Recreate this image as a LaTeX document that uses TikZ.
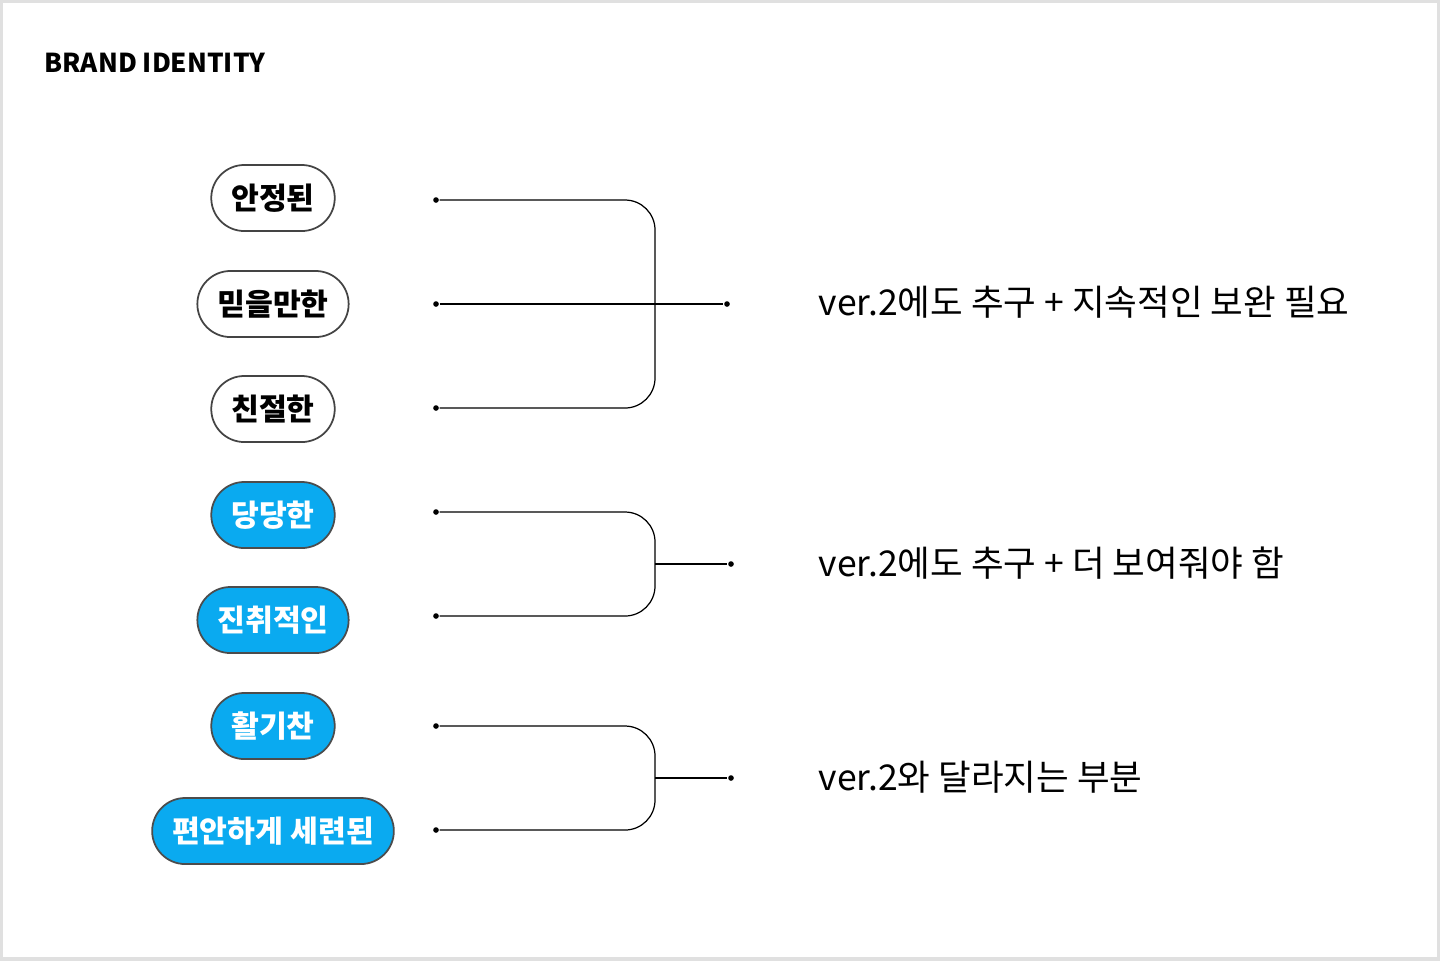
\documentclass[tikz,border=0pt]{standalone}
\usepackage{fontspec}
\setmainfont{Noto Sans CJK KR}
\usepackage{tikz}
\definecolor{pillblue}{HTML}{0AAAF0}
\definecolor{pillgray}{HTML}{444444}
\begin{document}
\begin{tikzpicture}[x=0.01cm, y=-0.01cm,
  pill/.style={draw=pillgray, line width=0.5pt, rounded corners=0.33cm, minimum height=0.66cm, inner xsep=0.2cm, font=\fontsize{8.6pt}{10pt}\selectfont\bfseries},
  bluepill/.style={pill, fill=pillblue, draw=black!70, text=white},
  remark/.style={anchor=west, inner sep=0pt, font=\fontsize{10.1pt}{12pt}\selectfont},
  link/.style={line width=0.35pt, rounded corners=0.3cm},
  dot/.style={circle, fill=black, inner sep=0pt, minimum size=1.6pt}]
  \useasboundingbox (0,0) rectangle (1440,960);
  \draw[black!12, line width=1pt] (1,1) rectangle (1439,959);

  % Title
  \node[anchor=west, inner sep=0pt, font=\fontsize{7.4pt}{9pt}\selectfont\bfseries] (title) at (44,63) {BRAND IDENTITY};

  % Keyword pills
  \node[pill] (k1) at (273,198) {안정된};
  \node[pill] (k2) at (273,304) {믿을만한};
  \node[pill] (k3) at (273,409) {친절한};
  \node[bluepill] (k4) at (273,515) {당당한};
  \node[bluepill] (k5) at (273,620) {진취적인};
  \node[bluepill] (k6) at (273,726) {활기찬};
  \node[bluepill] (k7) at (273,831) {편안하게 세련된};

  % Line ends
  \foreach \i/\y in {1/200,2/304,3/408,4/512,5/616,6/726,7/830}
    \node[dot] (s\i) at (436,\y) {};
  \node[dot] (e1) at (727,304) {};
  \node[dot] (e2) at (731,564) {};
  \node[dot] (e3) at (731,778) {};
  \coordinate (m2) at (655,564);
  \coordinate (m3) at (655,778);

  % Brackets
  \draw[link] (s1) -- (655,200) -- (655,408) -- (s3);
  \draw[link] (s2) -- (e1);
  \draw[link] (s4) -- (655,512) -- (655,616) -- (s5);
  \draw[link] (m2) -- (e2);
  \draw[link] (s6) -- (655,726) -- (655,830) -- (s7);
  \draw[link] (m3) -- (e3);

  % Remarks
  \node[remark] (r1) at (818,302) {ver.2에도 추구 + 지속적인 보완 필요};
  \node[remark] (r2) at (818,563) {ver.2에도 추구 + 더 보여줘야 함};
  \node[remark] (r3) at (818,777) {ver.2와 달라지는 부분};
\end{tikzpicture}
\end{document}
